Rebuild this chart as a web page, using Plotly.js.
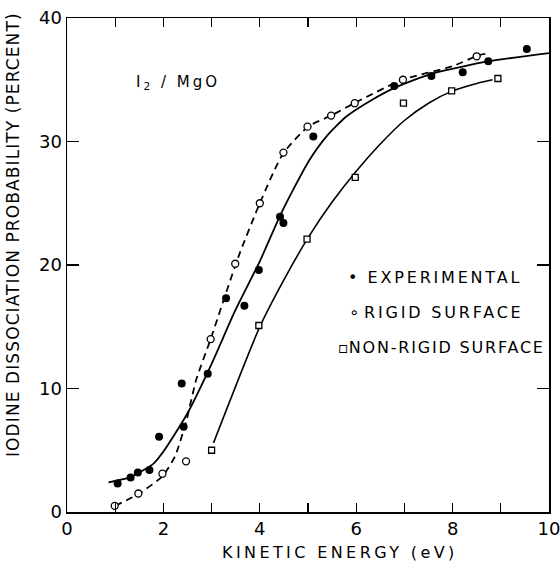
<!DOCTYPE html>
<html>
<head>
<meta charset="utf-8">
<script src="https://cdn.plot.ly/plotly-3.0.1.min.js"></script>
<style>html,body{margin:0;padding:0;background:#fff;}#chart{width:560px;height:566px;}</style>
</head>
<body>
<div id="chart"></div>
<script>
// Experimental points (filled circles)
const expX = [1.05, 1.32, 1.47, 1.71, 1.91, 2.38, 2.42, 2.92, 3.30, 3.68, 3.98, 4.42, 4.49, 5.11, 6.79, 7.56, 8.21, 8.74, 9.54];
const expY = [2.3, 2.8, 3.2, 3.4, 6.1, 10.4, 6.9, 11.2, 17.3, 16.7, 19.6, 23.9, 23.4, 30.4, 34.5, 35.3, 35.6, 36.5, 37.5];
// Rigid surface (open circles)
const rigX = [0.99, 1.48, 1.98, 2.47, 2.98, 3.49, 4.0, 4.49, 4.99, 5.48, 5.97, 6.97, 8.50];
const rigY = [0.5, 1.5, 3.1, 4.1, 14.0, 20.1, 25.0, 29.1, 31.2, 32.1, 33.1, 35.0, 36.9];
// Non-rigid surface (open squares)
const nrX = [3.0, 3.98, 4.98, 5.98, 6.98, 7.98, 8.94];
const nrY = [5.0, 15.1, 22.1, 27.1, 33.1, 34.1, 35.1];
// Fitted curves
const expCurveX = [0.86, 1.3, 1.79, 2.0, 2.5, 3.0, 3.5, 4.0, 4.41, 4.72, 5.03, 5.38, 5.79, 6.34, 6.83, 7.58, 8.76, 10.0];
const expCurveY = [2.4, 2.8, 3.9, 4.9, 8.0, 12.0, 16.4, 20.3, 23.9, 26.3, 28.5, 30.4, 32.0, 33.4, 34.4, 35.5, 36.5, 37.15];
const rigCurveX = [1.0, 1.5, 1.98, 2.24, 2.48, 2.68, 2.98, 3.55, 4.0, 4.48, 5.0, 5.48, 5.96, 6.96, 8.0, 8.55, 8.69];
const rigCurveY = [0.5, 1.5, 2.9, 4.5, 7.45, 10.7, 14.0, 20.6, 25.0, 29.0, 31.2, 32.1, 33.1, 35.0, 36.1, 37.0, 37.1];
const nrCurveX = [3.04, 4.0, 4.5, 5.0, 5.5, 6.0, 6.5, 7.0, 7.5, 8.0, 8.5, 8.83];
const nrCurveY = [5.6, 15.0, 18.8, 22.2, 25.1, 27.6, 29.8, 31.7, 33.1, 34.1, 34.7, 35.0];
// Axis ticks
const xTickVals = [0, 2, 4, 6, 8, 10];
const xTickText = ['0', '2', '4', '6', '8', '10'];
const yTickVals = [0, 10, 20, 30, 40];
const yTickText = ['0', '10', '20', '30', '40'];
// Texts
const xTitle = 'KINETIC ENERGY (eV)';
const yTitle = 'IODINE DISSOCIATION PROBABILITY (PERCENT)';
const legendLabels = ['EXPERIMENTAL', 'RIGID SURFACE', 'NON-RIGID SURFACE'];

const FONT = 'DejaVu Sans, sans-serif';
function sp(t, s) { return '<span style="letter-spacing:' + s + 'px">' + t + '</span>'; }

const traces = [
  {x: expCurveX, y: expCurveY, mode: 'lines', line: {color: '#000', width: 1.8, shape: 'spline', smoothing: 0.6}, hoverinfo: 'skip'},
  {x: rigCurveX, y: rigCurveY, mode: 'lines', line: {color: '#000', width: 1.8, dash: '7px,5px', shape: 'spline', smoothing: 0.6}, hoverinfo: 'skip'},
  {x: nrCurveX, y: nrCurveY, mode: 'lines', line: {color: '#000', width: 1.6, shape: 'spline', smoothing: 0.6}, hoverinfo: 'skip'},
  {x: expX, y: expY, mode: 'markers', marker: {symbol: 'circle', size: 8, color: '#000'}},
  {x: rigX, y: rigY, mode: 'markers', marker: {symbol: 'circle', size: 7, color: '#fff', line: {color: '#000', width: 1.3}}},
  {x: nrX, y: nrY, mode: 'markers', marker: {symbol: 'square', size: 6, color: '#fff', line: {color: '#000', width: 1.3}}}
];

const pw = 560 - 67 - 11, ph = 566 - 18 - 54;
function px(xp) { return (xp - 67) / pw; }
function py(yp) { return 1 - (yp - 18) / ph; }

const layout = {
  width: 560, height: 566,
  margin: {l: 67, r: 11, t: 18, b: 54},
  paper_bgcolor: '#fff', plot_bgcolor: '#fff',
  showlegend: false,
  font: {family: FONT, color: '#000', size: 15},
  xaxis: {
    range: [0, 10], tickmode: 'array', tickvals: xTickVals, ticktext: xTickText,
    ticks: 'inside', ticklen: 9, tickwidth: 1.3, tickcolor: '#000',
    minor: {dtick: 1, tick0: 0, ticks: 'inside', ticklen: 9, tickwidth: 1.3, tickcolor: '#000', showgrid: false},
    showline: true, linecolor: '#000', linewidth: 1.5, mirror: 'allticks',
    showgrid: false, zeroline: false, ticklabeloverflow: 'allow',
    tickfont: {family: FONT, size: 18}
  },
  yaxis: {
    range: [0, 40], tickvals: yTickVals, ticktext: yTickText,
    ticks: 'inside', ticklen: 12, tickwidth: 1.3, tickcolor: '#000',
    showline: true, linecolor: '#000', linewidth: 1.5, mirror: 'ticks',
    showgrid: false, zeroline: false, ticklabeloverflow: 'allow',
    tickfont: {family: FONT, size: 18}
  },
  annotations: [
    {x: px(340), y: py(552), xref: 'paper', yref: 'paper', xanchor: 'center', yanchor: 'middle', showarrow: false,
     text: sp(xTitle, 3.4), font: {family: FONT, size: 16}},
    {x: px(13), y: py(235), xref: 'paper', yref: 'paper', xanchor: 'center', yanchor: 'middle', showarrow: false,
     textangle: -90, text: sp(yTitle, 1.1), font: {family: FONT, size: 17}},
    {x: px(134), y: py(83), xref: 'paper', yref: 'paper', xanchor: 'left', yanchor: 'middle', showarrow: false,
     text: sp('I<sub>2</sub> / MgO', 3), font: {family: FONT, size: 15}},
    {x: px(346), y: py(277), xref: 'paper', yref: 'paper', xanchor: 'left', yanchor: 'middle', showarrow: false,
     text: '•  ' + sp(legendLabels[0], 2.8), font: {family: FONT, size: 16}},
    {x: px(347), y: py(312), xref: 'paper', yref: 'paper', xanchor: 'left', yanchor: 'middle', showarrow: false,
     text: '∘ ' + sp(legendLabels[1], 2.8), font: {family: FONT, size: 16}},
    {x: px(336), y: py(347), xref: 'paper', yref: 'paper', xanchor: 'left', yanchor: 'middle', showarrow: false,
     text: '▫' + sp(legendLabels[2], 1.8), font: {family: FONT, size: 16}}
  ]
};

Plotly.newPlot('chart', traces, layout, {staticPlot: true, displayModeBar: false});
</script>
</body>
</html>
